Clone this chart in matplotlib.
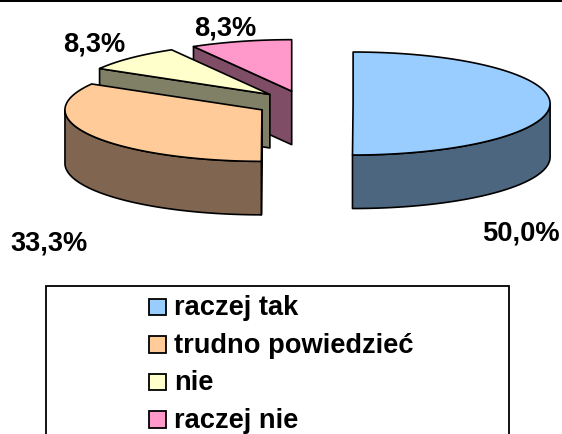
import numpy as np
import matplotlib
matplotlib.use("Agg")
import matplotlib.pyplot as plt
from matplotlib.patches import Polygon, Rectangle

categories = ["raczej tak", "trudno powiedzieć", "nie", "raczej nie"]
shares = [50.0, 33.3, 8.3, 8.3]
top_colors = ["#99CCFF", "#FFCC99", "#FFFFCC", "#FF99CC"]
side_colors = ["#4D6680", "#806650", "#808066", "#804D66"]
label_xy = [(520.5, 240.5), (49, 251), (94, 51.5), (225.5, 35)]

W, H = 562, 435
CX, CY, RX, RY, DEPTH, EXPLODE = 304.3, 104.5, 197, 51.5, 53.5, 48.8
LW = 1.2

plt.rcParams["font.family"] = ["Liberation Sans", "DejaVu Sans"]
fig = plt.figure(figsize=(W / 100, H / 100), dpi=100, facecolor="white")
ax = fig.add_axes([0, 0, 1, 1])
ax.set_xlim(0, W)
ax.set_ylim(H, 0)
ax.axis("off")


def pt(cx, cy, deg):
    a = np.radians(deg)
    return cx + RX * np.sin(a), cy - RY * np.cos(a)


def draw_slice(a1, a2, top, side, z):
    mid = np.radians((a1 + a2) / 2)
    cx = CX + EXPLODE * np.sin(mid)
    cy = CY - EXPLODE * RY / RX * np.cos(mid)
    kw = dict(edgecolor="black", linewidth=LW, joinstyle="round", zorder=z)
    # radial faces visible to the viewer
    if np.sin(np.radians(a1)) < -1e-9:
        x, y = pt(cx, cy, a1)
        ax.add_patch(Polygon([(cx, cy), (x, y), (x, y + DEPTH), (cx, cy + DEPTH)],
                             closed=True, facecolor=side, **kw))
    if np.sin(np.radians(a2)) > 1e-9:
        x, y = pt(cx, cy, a2)
        ax.add_patch(Polygon([(cx, cy), (x, y), (x, y + DEPTH), (cx, cy + DEPTH)],
                             closed=True, facecolor=side, **kw))
    # outer wall (front half of the rim only)
    lo, hi = max(a1, 90), min(a2, 270)
    if hi > lo:
        t = np.linspace(lo, hi, 80)
        xs, ys = pt(cx, cy, t)
        verts = np.r_[np.c_[xs, ys], np.c_[xs, ys + DEPTH][::-1]]
        ax.add_patch(Polygon(verts, closed=True, facecolor=side, **kw))
    # top surface
    t = np.linspace(a1, a2, 120)
    xs, ys = pt(cx, cy, t)
    verts = np.r_[[(cx, cy)], np.c_[xs, ys]]
    ax.add_patch(Polygon(verts, closed=True, facecolor=top, **kw))


total = sum(shares)
edges = np.r_[0, np.cumsum(shares)] / total * 360
for i in [3, 2, 1, 0]:
    draw_slice(edges[i], edges[i + 1], top_colors[i], side_colors[i], 5 - i)

FS = 19.6
for v, (x, y) in zip(shares, label_xy):
    ax.text(x, y, f"{v:.1f}%".replace(".", ","), ha="center", va="baseline",
            fontsize=FS, fontweight="bold", color="black", zorder=10)

# legend frame (runs past the bottom of the picture)
ax.add_patch(Rectangle((46, 287), 463, 170, facecolor="white", edgecolor="black",
                       linewidth=1.3, zorder=6))
for i, name in enumerate(categories):
    y = 299.5 + 37.6 * i
    ax.add_patch(Rectangle((149, y), 16.5, 16.5, facecolor=top_colors[i],
                           edgecolor="black", linewidth=1.3, zorder=7))
    ax.text(174, y + 15.6, name, ha="left", va="baseline", fontsize=FS,
            fontweight="bold", color="black", zorder=8, clip_on=False)

# black rule along the top edge
ax.add_patch(Rectangle((0, 0), W, 2.7, facecolor="black", edgecolor="none", zorder=9))

fig.savefig("out.png", dpi=100, facecolor="white")
